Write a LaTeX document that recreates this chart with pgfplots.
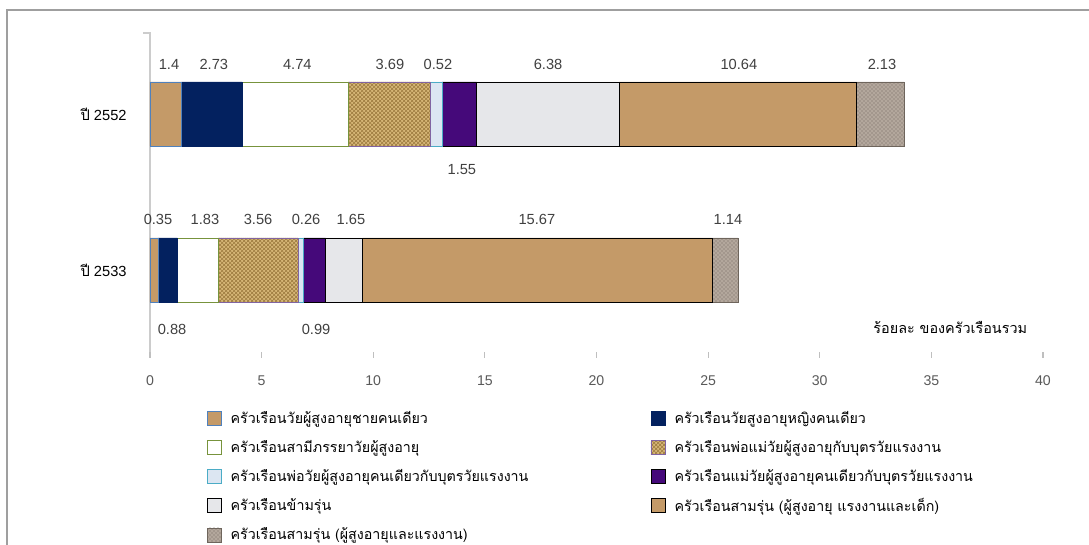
\documentclass[border=0pt]{standalone}
\usepackage{fontspec}
\setmainfont{Liberation Sans}
\newfontfamily\thai[Script=Thai]{Loma}
\usepackage{pgfplots}
\pgfplotsset{compat=1.18}
\usetikzlibrary{patterns}
\definecolor{paper}{HTML}{C49A68}
\definecolor{navy}{HTML}{03215F}
\definecolor{olive}{HTML}{77933C}
\definecolor{burlap}{HTML}{D6B677}
\definecolor{burlapdark}{HTML}{9C7A3E}
\definecolor{lblue}{HTML}{DCE6F2}
\definecolor{teal}{HTML}{4BACC6}
\definecolor{purp}{HTML}{45097A}
\definecolor{marble}{HTML}{E6E7EA}
\definecolor{granite}{HTML}{B3A79C}
\definecolor{granitedark}{HTML}{6E655C}
\definecolor{steel}{HTML}{4F81BD}
\definecolor{lav}{HTML}{8064A2}
\definecolor{txt}{HTML}{404040}
\definecolor{ticktxt}{HTML}{595959}
\newcommand{\lone}[1]{\hspace*{5pt}\makebox[313pt][l]{#1}}
\newcommand{\ltwo}[1]{\hspace*{5pt}#1}
\begin{document}
\begin{tikzpicture}
\useasboundingbox (-112.5pt,-140.25pt) rectangle (704.25pt,268.5pt);
\draw[gray!75, line width=1.5pt] (-107.25pt,-140.25pt) -- (-107.25pt,261pt) -- (704.25pt,261pt);
\draw[gray!40, line width=0.9pt] (0pt,0pt) -- (0pt,243.75pt) -- (-5pt,243.75pt);
\begin{axis}[
  xbar stacked,
  scale only axis,
  width=669.75pt, height=243.75pt,
  xmin=0, xmax=40, ymin=-0.564, ymax=1.519,
  bar width=48pt,
  xtick={0,5,...,40},
  ytick={0,1},
  yticklabels={{{\thai ปี} 2533},{{\thai ปี} 2552}},
  axis x line*=bottom, axis y line*=left,
  x axis line style={draw=none},
  y axis line style={draw=none},
  tick align=inside,
  major tick length=4.5pt,
  xtick style={draw=gray!50, line width=0.8pt},
  ytick style={draw=none},
  /pgf/number format/assume math mode=true,
  xticklabel style={font=\fontsize{10.6}{12}\selectfont, text=ticktxt, yshift=-10pt},
  yticklabel style={font=\fontsize{11}{13}\selectfont, text=black, xshift=-14pt},
  legend columns=2,
  legend cell align=left,
  legend style={at={(0.0588,-0.148)}, anchor=north west, draw=none, fill=none,
    font=\thai\fontsize{10.7}{12}\selectfont, row sep=7pt},
  legend image code/.code={\draw[#1] (0pt,-5.25pt) rectangle (10.5pt,5.25pt);},
  clip=false,
]
\addplot[fill=paper, draw=steel] coordinates {(1.4,1) (0.35,0)};
\addlegendentry{\lone{ครัวเรือนวัยผู้สูงอายุชายคนเดียว}}
\addplot[fill=navy, draw=navy] coordinates {(2.73,1) (0.88,0)};
\addlegendentry{\ltwo{ครัวเรือนวัยสูงอายุหญิงคนเดียว}}
\addplot[fill=white, draw=olive] coordinates {(4.74,1) (1.83,0)};
\addlegendentry{\lone{ครัวเรือนสามีภรรยาวัยผู้สูงอายุ}}
\addplot[fill=burlap, draw=lav, postaction={pattern=crosshatch, pattern color=burlapdark}] coordinates {(3.69,1) (3.56,0)};
\addlegendentry{\ltwo{ครัวเรือนพ่อแม่วัยผู้สูงอายุกับบุตรวัยแรงงาน}}
\addplot[fill=lblue, draw=teal] coordinates {(0.52,1) (0.26,0)};
\addlegendentry{\lone{ครัวเรือนพ่อวัยผู้สูงอายุคนเดียวกับบุตรวัยแรงงาน}}
\addplot[fill=purp, draw=black] coordinates {(1.55,1) (0.99,0)};
\addlegendentry{\ltwo{ครัวเรือนแม่วัยผู้สูงอายุคนเดียวกับบุตรวัยแรงงาน}}
\addplot[fill=marble, draw=black] coordinates {(6.38,1) (1.65,0)};
\addlegendentry{\lone{ครัวเรือนข้ามรุ่น}}
\addplot[fill=paper, draw=black] coordinates {(10.64,1) (15.67,0)};
\addlegendentry{\ltwo{ครัวเรือนสามรุ่น (ผู้สูงอายุ แรงงานและเด็ก)}}
\addplot[fill=granite, draw=granitedark, postaction={pattern=crosshatch dots, pattern color=granitedark}] coordinates {(2.13,1) (1.14,0)};
\addlegendentry{\lone{ครัวเรือนสามรุ่น (ผู้สูงอายุและแรงงาน)}}
% data labels
\tikzset{lbl/.style={font=\fontsize{11}{13}\selectfont, text=txt}}
\node[lbl] at (axis cs:0.85,1.32) {1.4};
\node[lbl] at (axis cs:2.86,1.32) {2.73};
\node[lbl] at (axis cs:6.6,1.32) {4.74};
\node[lbl] at (axis cs:10.75,1.32) {3.69};
\node[lbl] at (axis cs:12.9,1.32) {0.52};
\node[lbl] at (axis cs:13.97,0.641) {1.55};
\node[lbl] at (axis cs:17.83,1.32) {6.38};
\node[lbl] at (axis cs:26.38,1.32) {10.64};
\node[lbl] at (axis cs:32.79,1.32) {2.13};
\node[lbl] at (axis cs:0.36,0.324) {0.35};
\node[lbl] at (axis cs:0.99,-0.378) {0.88};
\node[lbl] at (axis cs:2.46,0.324) {1.83};
\node[lbl] at (axis cs:4.84,0.324) {3.56};
\node[lbl] at (axis cs:6.99,0.324) {0.26};
\node[lbl] at (axis cs:7.44,-0.378) {0.99};
\node[lbl] at (axis cs:9.0,0.324) {1.65};
\node[lbl] at (axis cs:17.33,0.324) {15.67};
\node[lbl] at (axis cs:25.89,0.324) {1.14};
\node[anchor=east, font=\thai\fontsize{10.8}{12}\selectfont] at (axis cs:39.5,-0.37) {ร้อยละ ของครัวเรือนรวม};
\end{axis}
\end{tikzpicture}
\end{document}
